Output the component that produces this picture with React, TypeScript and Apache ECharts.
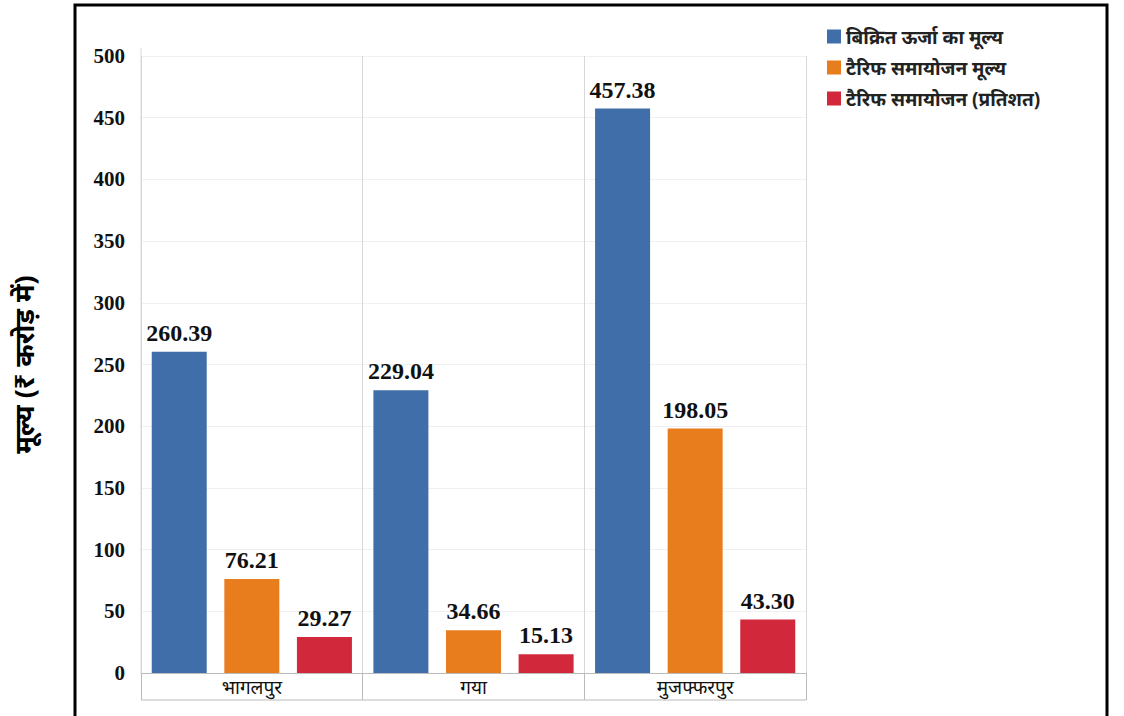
import React, { useEffect, useRef } from "react";
import * as echarts from "echarts";

const categories = ["भागलपुर", "गया", "मुजफ्फरपुर"];
const seriesNames = ["बिक्रित ऊर्जा का मूल्य", "टैरिफ समायोजन मूल्य", "टैरिफ समायोजन (प्रतिशत)"];
const soldEnergyValue = [260.39, 229.04, 457.38];
const tariffAdjValue = [76.21, 34.66, 198.05];
const tariffAdjPercent = [29.27, 15.13, 43.3];
const colors = ["#3F6EA9", "#E87D1E", "#D2283B"];

export default function App() {
  const ref = useRef<HTMLDivElement>(null);
  useEffect(() => {
    if (!ref.current) return;
    const chart = echarts.init(ref.current, null, { renderer: "svg" });
    const dataSets = [soldEnergyValue, tariffAdjValue, tariffAdjPercent];
    const devFont = "'Noto Sans', 'Noto Sans Devanagari', sans-serif";
    const serif = "'Liberation Serif', 'Times New Roman', serif";
    chart.setOption({
      animation: false,
      backgroundColor: "#ffffff",
      color: colors,
      grid: { left: 141, right: 318, top: 56, bottom: 43, containLabel: false },
      legend: {
        orient: "vertical",
        left: 822,
        top: 22,
        itemWidth: 14,
        itemHeight: 14,
        itemGap: 12,
        icon: "rect",
        textStyle: { fontSize: 19, fontWeight: "bold", color: "#222", fontFamily: devFont },
        data: seriesNames,
      },
      xAxis: {
        type: "category",
        data: categories,
        axisLine: { show: true, lineStyle: { color: "#bbb", width: 1 } },
        axisTick: { show: true, length: 27, lineStyle: { color: "#bbb" } },
        axisLabel: { fontSize: 19, color: "#111", fontFamily: devFont, margin: 4 },
        splitLine: { show: true, lineStyle: { color: "#d8d8d8", width: 1 } },
      },
      yAxis: {
        type: "value",
        min: 0,
        max: 500,
        interval: 50,
        name: "मूल्य (₹ करोड़ में)",
        nameLocation: "middle",
        nameRotate: 90,
        nameGap: 104,
        nameTextStyle: { fontSize: 27, fontWeight: "bold", color: "#000", fontFamily: devFont },
        axisLine: { show: false },
        axisTick: { show: false },
        axisLabel: {
          fontSize: 21,
          fontWeight: "bold",
          color: "#111",
          fontFamily: serif,
          margin: 16,
        },
        splitLine: { show: true, lineStyle: { color: "#f0f0f0" } },
      },
      series: seriesNames.map((name, i) => ({
        name,
        type: "bar",
        data: dataSets[i],
        barWidth: 55,
        barGap: "32%",
        itemStyle: { color: colors[i] },
        label: {
          show: true,
          position: "top",
          distance: 7,
          fontSize: 24,
          fontWeight: "bold",
          color: "#111",
          fontFamily: serif,
          formatter: (p: any) => Number(p.value).toFixed(2),
        },
      })),
      graphic: [
        {
          type: "rect",
          shape: { x: 75, y: 5, width: 1032, height: 730 },
          style: { fill: "none", stroke: "#000", lineWidth: 3 },
          silent: true,
        },
        {
          type: "line",
          shape: { x1: 141, y1: 700, x2: 806, y2: 700 },
          style: { stroke: "#bbb", lineWidth: 1 },
          silent: true,
        },
        {
          type: "line",
          shape: { x1: 141, y1: 48, x2: 141, y2: 673 },
          style: { stroke: "#d8d8d8", lineWidth: 1 },
          silent: true,
        },
      ],
    });
    return () => chart.dispose();
  }, []);
  return (
    <div
      ref={ref}
      style={{ position: "absolute", left: 0, top: 0, width: 1124, height: 716 }}
    />
  );
}
